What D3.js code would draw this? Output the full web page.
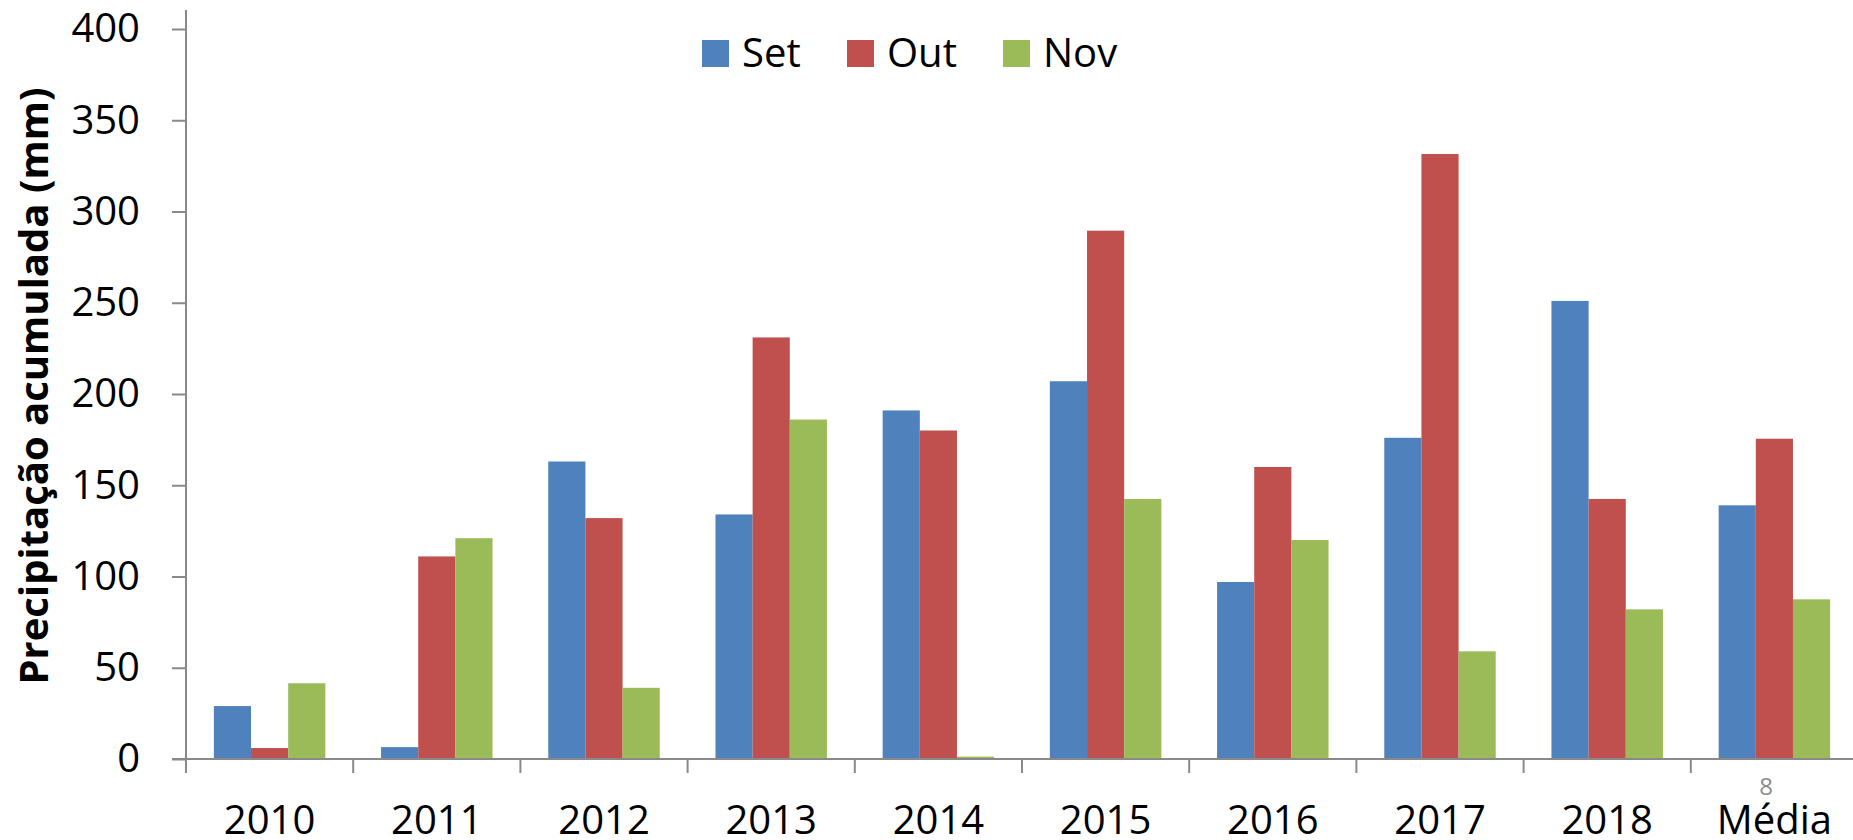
<!DOCTYPE html>
<html>
<head>
<meta charset="utf-8">
<script src="https://cdn.jsdelivr.net/npm/d3@7"></script>
<style>
  html, body { margin: 0; padding: 0; background: #fff; overflow: hidden; }
  svg { display: block; font-family: "Open Sans", sans-serif; }
</style>
</head>
<body>
<svg id="chart"></svg>
<script>
// data
const categories = ["2010", "2011", "2012", "2013", "2014", "2015", "2016", "2017", "2018", "Média"];
const seriesNames = ["Set", "Out", "Nov"];
const setValues = [29, 6.5, 163, 134, 191, 207, 97, 176, 251, 139];
const outValues = [6, 111, 132, 231, 180, 289.5, 160, 331.5, 142.5, 175.5];
const novValues = [41.5, 121, 39, 186, 1.3, 142.5, 120, 59, 82, 87.5];
const yTicks = [0, 50, 100, 150, 200, 250, 300, 350, 400];
const colors = ["#4F81BD", "#C0504D", "#9BBB59"];

const W = 1853, H = 840;
const plotLeft = 186, plotRight = 1858, plotTop = 29, plotBottom = 759;
const axisColor = "#898989";

const svg = d3.select("#chart").attr("width", W).attr("height", H);

const x0 = d3.scaleBand().domain(categories).range([plotLeft, plotRight]).padding(0);
const step = x0.step();
const x1 = d3.scaleBand().domain(seriesNames).range([step / 6, step * 5 / 6]).padding(0);
const y = d3.scaleLinear().domain([0, 400]).range([plotBottom, plotTop]);

const allValues = [setValues, outValues, novValues];
const rows = categories.map((c, i) => ({
  cat: c,
  vals: seriesNames.map((s, j) => ({ key: s, value: allValues[j][i], color: colors[j] }))
}));

// bars
svg.append("g")
  .selectAll("g")
  .data(rows)
  .join("g")
  .attr("transform", d => `translate(${x0(d.cat)},0)`)
  .selectAll("rect")
  .data(d => d.vals)
  .join("rect")
  .attr("x", d => x1(d.key))
  .attr("width", x1.bandwidth())
  .attr("y", d => y(d.value))
  .attr("height", d => y(0) - y(d.value))
  .attr("fill", d => d.color);

// y axis
const yAxis = svg.append("g")
  .attr("transform", `translate(${plotLeft},0)`)
  .call(d3.axisLeft(y).tickValues(yTicks).tickSize(14).tickPadding(32));
yAxis.select(".domain").remove();
yAxis.selectAll(".tick line").attr("stroke", axisColor).attr("stroke-width", 2);
yAxis.selectAll("text").attr("font-size", 40).attr("fill", "#000").attr("font-family", "Open Sans");

svg.append("line")
  .attr("x1", plotLeft).attr("x2", plotLeft)
  .attr("y1", 10).attr("y2", plotBottom + 14)
  .attr("stroke", axisColor).attr("stroke-width", 2);

// x axis
const xAxis = svg.append("g")
  .attr("transform", `translate(0,${plotBottom})`)
  .call(d3.axisBottom(x0).tickSize(0));
xAxis.select(".domain").remove();
xAxis.selectAll("text")
  .attr("y", 75).attr("dy", 0)
  .attr("font-size", 40).attr("fill", "#000").attr("font-family", "Open Sans");

svg.append("line")
  .attr("x1", plotLeft - 14).attr("x2", W)
  .attr("y1", plotBottom).attr("y2", plotBottom)
  .attr("stroke", axisColor).attr("stroke-width", 2);

svg.append("g")
  .selectAll("line")
  .data(categories.slice(1))
  .join("line")
  .attr("x1", d => x0(d)).attr("x2", d => x0(d))
  .attr("y1", plotBottom).attr("y2", plotBottom + 14)
  .attr("stroke", axisColor).attr("stroke-width", 2);

// y title
svg.append("text")
  .attr("transform", `translate(48,${(plotTop + plotBottom) / 2 - 8}) rotate(-90)`)
  .attr("text-anchor", "middle")
  .attr("font-size", 40)
  .attr("font-weight", "bold")
  .attr("fill", "#000")
  .text("Precipitação acumulada (mm)");

// legend
const legendX = [702, 847, 1003];
const legend = svg.append("g")
  .selectAll("g")
  .data(seriesNames)
  .join("g")
  .attr("transform", (d, i) => `translate(${legendX[i]},40)`);
legend.append("rect")
  .attr("width", 27).attr("height", 27)
  .attr("fill", (d, i) => colors[i]);
legend.append("text")
  .attr("x", 40).attr("y", 27)
  .attr("font-size", 40)
  .attr("fill", "#000")
  .text(d => d);

// slide number
svg.append("text")
  .attr("x", 1766).attr("y", 795)
  .attr("text-anchor", "middle")
  .attr("font-size", 24)
  .attr("fill", "#8c8c8c")
  .text("8");
</script>
</body>
</html>
